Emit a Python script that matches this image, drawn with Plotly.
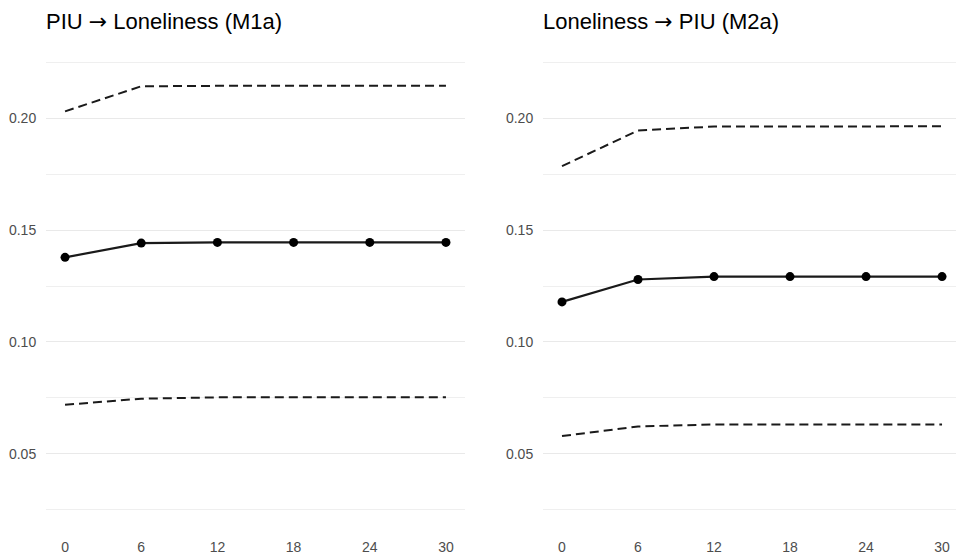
import plotly.graph_objects as go
from plotly.subplots import make_subplots

months = [0, 6, 12, 18, 24, 30]
m1a_est = [0.1378, 0.1442, 0.1445, 0.1445, 0.1445, 0.1445]
m1a_lo = [0.0719, 0.0746, 0.0752, 0.0752, 0.0752, 0.0752]
m1a_hi = [0.2031, 0.2143, 0.2145, 0.2145, 0.2145, 0.2145]
m2a_est = [0.1179, 0.1279, 0.1292, 0.1292, 0.1292, 0.1292]
m2a_lo = [0.0579, 0.0622, 0.0631, 0.0631, 0.0631, 0.0631]
m2a_hi = [0.1786, 0.1945, 0.1963, 0.1964, 0.1964, 0.1964]
titles = ["PIU <span style=\"font-family:DejaVu Sans\">→</span> Loneliness (M1a)",
          "Loneliness <span style=\"font-family:DejaVu Sans\">→</span> PIU (M2a)"]
y_ticks = [0.05, 0.10, 0.15, 0.20]
y_labels = ["0.05", "0.10", "0.15", "0.20"]

W, H = 956, 557
L, R, T, B = 46, 0, 40, 25
pw = W - L - R

fig = make_subplots(rows=1, cols=2)

panels = [(m1a_est, m1a_lo, m1a_hi), (m2a_est, m2a_lo, m2a_hi)]
for i, (est, lo, hi) in enumerate(panels, start=1):
    for band in (lo, hi):
        fig.add_trace(go.Scatter(x=months, y=band, mode="lines",
                                 line=dict(color="#1a1a1a", width=2, dash="9px,5px"),
                                 showlegend=False, hoverinfo="skip"), row=1, col=i)
    fig.add_trace(go.Scatter(x=months, y=est, mode="lines+markers",
                             line=dict(color="#1a1a1a", width=2.2),
                             marker=dict(color="black", size=9),
                             showlegend=False), row=1, col=i)

dom1 = [0, (465 - L) / pw]
dom2 = [(543 - L) / pw, 1]
xr1 = [-1.5, 31.5]
xr2 = [-1.5, 30 + (956 - 942) / 12.7]

axis_font = dict(family="Liberation Sans, Arial, sans-serif", size=14, color="#4d4d4d")
for i, (dom, xr) in enumerate([(dom1, xr1), (dom2, xr2)], start=1):
    fig.update_xaxes(domain=dom, range=xr, tickvals=months, ticktext=[str(m) for m in months],
                     showgrid=False, zeroline=False, showline=False,
                     ticks="outside", ticklen=2, tickcolor="rgba(0,0,0,0)",
                     tickfont=axis_font, row=1, col=i)
    fig.update_yaxes(range=[0.015, 0.235], tickvals=y_ticks, ticktext=y_labels,
                     showgrid=True, gridcolor="#e9e9e9", gridwidth=1.2,
                     minor=dict(tickvals=[0.025, 0.075, 0.125, 0.175, 0.225],
                                showgrid=True, gridcolor="#efefef", gridwidth=1),
                     zeroline=False, showline=False,
                     ticks="outside", ticklen=6, tickcolor="rgba(0,0,0,0)",
                     tickfont=axis_font, row=1, col=i)

for title, xpx in zip(titles, [46, 543]):
    fig.add_annotation(text=title, xref="paper", yref="paper",
                       x=(xpx - L) / pw, y=1 + (T - 22) / (H - T - B),
                       xanchor="left", yanchor="middle", showarrow=False, xshift=-2,
                       font=dict(family="Liberation Sans, Arial, sans-serif", size=22, color="black"))

fig.update_layout(width=W, height=H, margin=dict(l=L, r=R, t=T, b=B),
                  plot_bgcolor="white", paper_bgcolor="white")

fig.write_html("out.html", config={"displayModeBar": False},
               post_script="document.body.style.margin='0';")
